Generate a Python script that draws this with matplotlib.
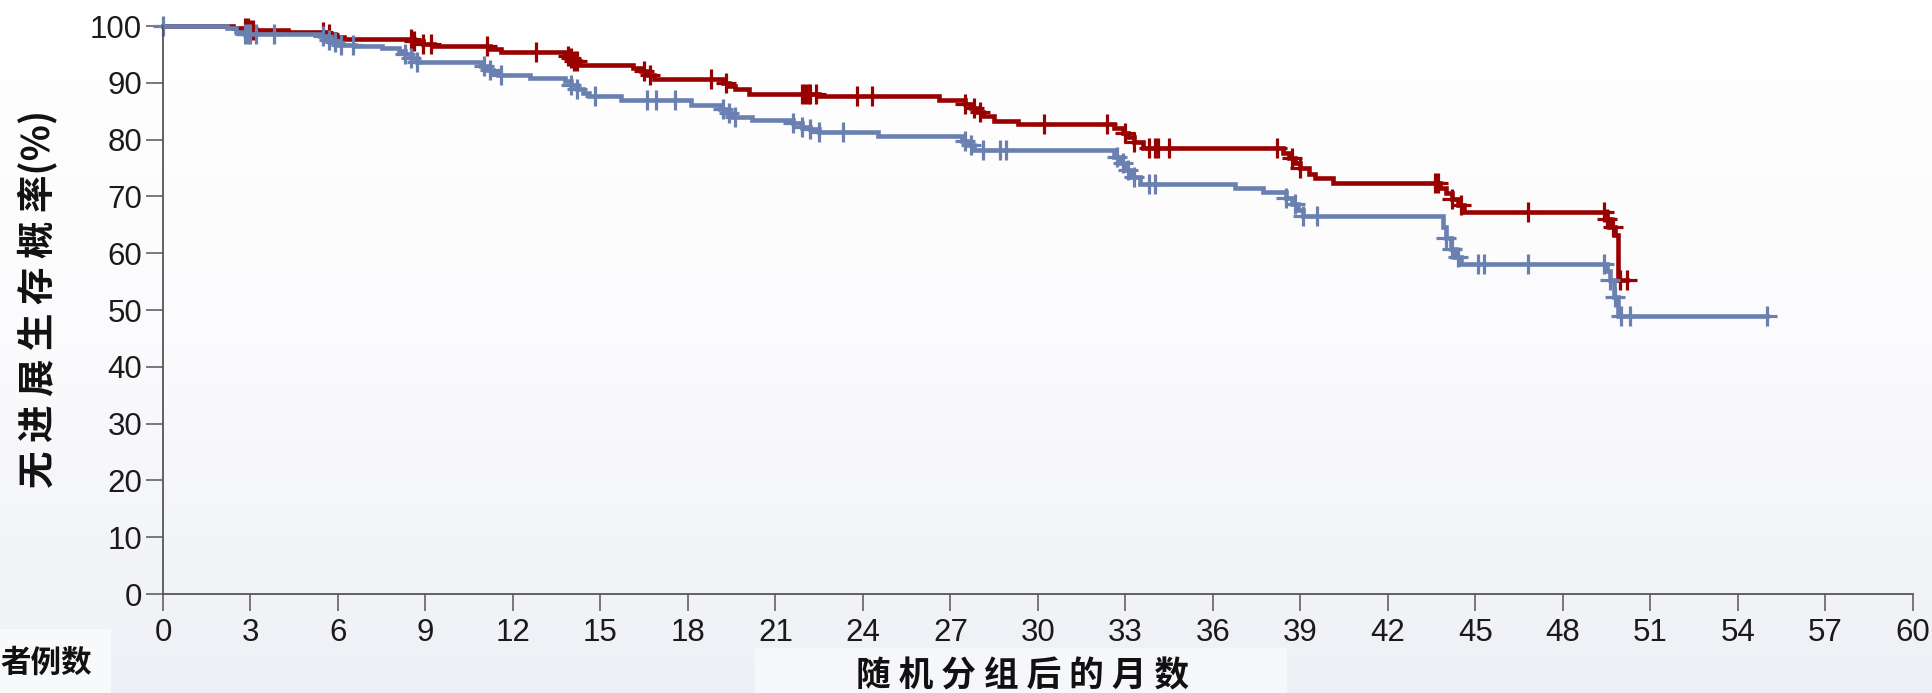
import numpy as np
import matplotlib
matplotlib.use('Agg')
import matplotlib.pyplot as plt
from matplotlib.colors import LinearSegmentedColormap

# step curves: time (months) of each drop and survival (%) after it
red_t = [0, 2.4, 3.0, 4.3, 5.6, 5.9, 6.2, 8.6, 8.9, 9.3, 11.2, 11.6, 13.8, 13.95, 14.1, 14.3,
         16.1, 16.4, 16.6, 16.85, 19.2, 19.4, 19.6, 20.1, 22.5, 26.6, 27.5, 27.7, 27.9, 28.1,
         28.5, 29.3, 32.6, 32.9, 33.1, 33.3, 33.6, 38.4, 38.6, 38.8, 39.0, 39.3, 39.5, 40.1,
         43.8, 44.0, 44.2, 44.4, 44.6, 49.5, 49.6, 49.8, 49.9]
red_s = [100, 99.6, 99.3, 99.0, 98.6, 98.1, 97.7, 97.3, 96.9, 96.4, 96.0, 95.4, 94.8, 94.3, 93.8, 93.2,
         92.6, 92.0, 91.4, 90.7, 90.0, 89.4, 88.9, 88.1, 87.6, 87.0, 86.3, 85.6, 84.9, 84.2,
         83.2, 82.7, 82.0, 81.2, 80.4, 79.6, 78.5, 77.7, 76.8, 75.9, 75.0, 74.0, 73.2, 72.4,
         71.5, 70.6, 69.6, 68.5, 67.3, 66.0, 64.6, 63.2, 55.3]
red_end = 50.2
red_cens = [2.8, 2.9, 3.0, 3.1, 5.5, 5.7, 8.5, 8.6, 8.9, 9.2, 11.1, 12.8, 13.9, 14.0, 14.1, 14.2,
            16.5, 16.7, 18.8, 19.3, 21.9, 22.0, 22.1, 22.2, 22.4, 23.8, 24.3, 27.5, 27.8, 28.0,
            30.2, 32.35, 33.0, 33.3, 33.8, 34.0, 34.1, 34.5, 38.2, 38.7, 39.0, 43.6, 43.7, 44.2,
            44.5, 46.8, 49.4, 49.5, 49.7, 49.95, 50.2]

blue_t = [0, 2.2, 2.5, 2.8, 5.4, 5.6, 5.8, 6.0, 6.6, 7.5, 8.1, 8.3, 8.5, 8.7, 10.9, 11.1, 11.3, 11.5,
          12.6, 13.8, 14.0, 14.2, 14.4, 14.6, 15.7, 18.1, 19.1, 19.3, 19.5, 20.2, 21.6, 21.9, 22.2,
          22.5, 24.5, 27.4, 27.6, 27.8, 32.6, 32.8, 33.0, 33.2, 33.5, 36.75, 37.7, 38.5, 38.7,
          38.9, 39.1, 43.9, 44.0, 44.15, 44.3, 44.5, 49.5, 49.6, 49.75, 49.9]
blue_s = [100, 99.6, 99.0, 98.6, 98.2, 97.6, 97.1, 96.7, 96.4, 96.1, 95.6, 95.0, 94.4, 93.7, 93.0, 92.3, 91.7, 91.3,
          90.9, 90.4, 89.6, 88.9, 88.2, 87.6, 87.0, 86.1, 85.4, 84.6, 83.9, 83.5, 82.9, 82.3, 81.8,
          81.4, 80.6, 79.8, 79.0, 78.2, 77.0, 75.8, 74.6, 73.4, 72.2, 71.4, 70.8, 69.7, 68.6,
          67.6, 66.5, 64.6, 62.7, 60.8, 59.4, 58.1, 56.8, 55.3, 52.3, 49.0]
blue_end = 55.0
blue_cens = [0, 2.8, 2.9, 3.0, 3.2, 3.8, 5.5, 5.7, 5.9, 6.1, 6.5, 8.3, 8.5, 8.7, 11.0, 11.2, 11.6,
             14.0, 14.2, 14.8, 16.6, 16.9, 17.55, 19.2, 19.4, 19.6, 21.6, 21.9, 22.2, 22.5, 23.3,
             27.5, 27.7, 28.1, 28.7, 28.9, 32.7, 32.9, 33.1, 33.3, 33.8, 34.0, 38.5, 38.8, 39.1,
             39.55, 44.0, 44.2, 44.4, 45.1, 45.3, 46.8, 49.4, 49.6, 49.8, 50.0, 50.3, 55.0]

x_ticks = list(range(0, 61, 3))
y_ticks = list(range(0, 101, 10))

red_color = '#990000'
blue_color = '#6a80b0'
cjk = ['Noto Sans CJK SC', 'DejaVu Sans']

W, H = 1933, 693
fig = plt.figure(figsize=(W / 100, H / 100), dpi=100)

# background gradient
bg = fig.add_axes([0, 0, 1, 1], zorder=-10)
cmap = LinearSegmentedColormap.from_list('bg', ['#ffffff', '#fbfbfd', '#eef0f5'])
bg.imshow(np.linspace(0, 1, 256).reshape(-1, 1), aspect='auto', cmap=cmap, extent=[0, 1, 0, 1])
bg.add_patch(plt.Rectangle((0, 0), 111 / W, 1 - 629 / H, color='#f8f9fb', lw=0))
bg.add_patch(plt.Rectangle((755 / W, 0), (1287 - 755) / W, 1 - 648 / H, color='#f6f7fa', lw=0))
bg.set_xlim(0, 1)
bg.set_ylim(0, 1)
bg.axis('off')

ax = fig.add_axes([163 / W, 1 - 594 / H, (1913 - 163) / W, (594 - 26) / H])
ax.patch.set_alpha(0)


def draw_curve(t, s, end, cens, color):
    tt = np.array(t + [end])
    ss = np.array(s + [s[-1]])
    ax.step(tt, ss, where='post', color=color, linewidth=3.3, clip_on=False, solid_joinstyle='miter')
    idx = np.searchsorted(np.array(t), np.array(cens), side='right') - 1
    ax.plot(cens, np.array(s)[idx], linestyle='none', marker='+', markersize=14,
            markeredgewidth=2.3, color=color, clip_on=False)


draw_curve(red_t, red_s, red_end, red_cens, red_color)
draw_curve(blue_t, blue_s, blue_end, blue_cens, blue_color)

ax.set_xlim(0, 60)
ax.set_ylim(0, 100)
ax.set_xticks(x_ticks)
ax.set_yticks(y_ticks)
for side in ['top', 'right']:
    ax.spines[side].set_visible(False)
for side in ['left', 'bottom']:
    ax.spines[side].set_color('#555555')
    ax.spines[side].set_linewidth(1.3)
ax.tick_params(direction='out', length=12, width=1.1, color='#555555',
               labelsize=22.5, labelcolor='#1a1a1a')
ax.tick_params(axis='x', pad=5)
ax.tick_params(axis='y', pad=3)
for lab in ax.get_xticklabels() + ax.get_yticklabels():
    lab.set_fontfamily('Liberation Sans')

fig.text(37 / W, 1 - 299 / H, '无 进 展 生 存 概 率(%)', rotation=90, ha='center', va='center',
         fontsize=27, fontweight='bold', family=cjk, color='#111111')
fig.text(1023 / W, 1 - 676 / H, '随 机 分 组 后 的 月 数', ha='center', va='center',
         fontsize=25, fontweight='bold', family=cjk, color='#111111')
fig.text(92 / W, 1 - 663 / H, '者例数', ha='right', va='center',
         fontsize=22, fontweight='bold', family=cjk, color='#111111')

fig.savefig('out.png', dpi=100)
